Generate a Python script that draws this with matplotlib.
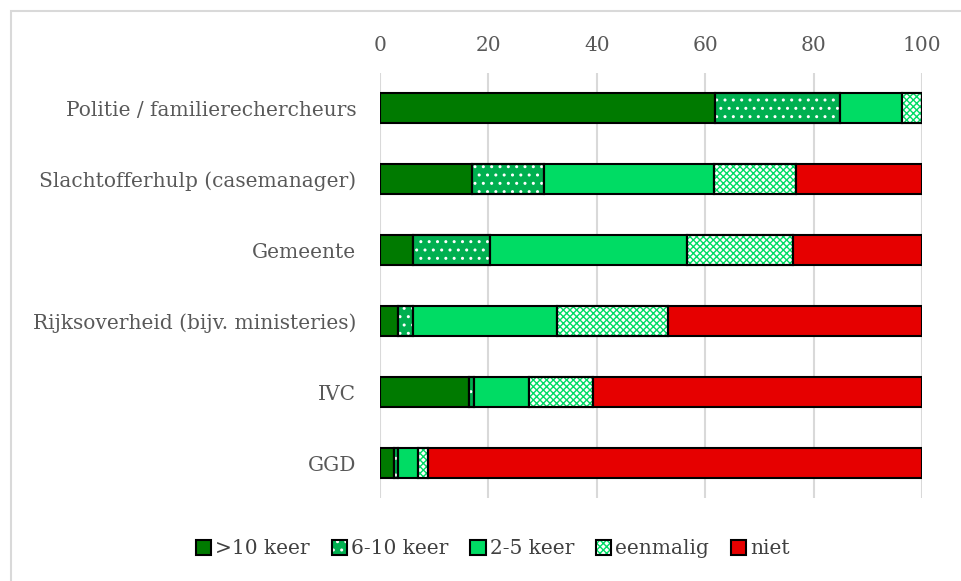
import numpy as np
import matplotlib
matplotlib.use("Agg")
import matplotlib.pyplot as plt
from matplotlib.patches import Rectangle

categories = ["Politie / familierechercheurs", "Slachtofferhulp (casemanager)", "Gemeente",
              "Rijksoverheid (bijv. ministeries)", "IVC", "GGD"]
series = [">10 keer", "6-10 keer", "2-5 keer", "eenmalig", "niet"]
meer_dan_10 = [61.8, 16.9, 6.1, 3.4, 16.4, 2.5]
keer_6_10 = [23.0, 13.3, 14.2, 2.7, 0.9, 0.9]
keer_2_5 = [11.6, 31.4, 36.3, 26.5, 10.2, 3.7]
eenmalig = [3.6, 15.2, 19.6, 20.5, 11.8, 1.8]
niet = [0.0, 23.2, 23.8, 46.9, 60.7, 91.1]
ticks = [0, 20, 40, 60, 80, 100]

colors = ["#007a00", "#00b050", "#00dc64", "#ffffff", "#e60000"]
hatches = [None, "..", None, "xxxxx", None]
hatch_colors = ["black", "white", "black", "#00dc64", "black"]

plt.rcParams["font.family"] = ["DejaVu Serif"]
plt.rcParams["hatch.linewidth"] = 1.0

fig = plt.figure(figsize=(9.61, 5.81), dpi=100)
ax = fig.add_axes([0.3954, 0.142, 0.5640, 0.733])

y = np.arange(len(categories))
left = np.zeros(len(categories))
data = [meer_dan_10, keer_6_10, keer_2_5, eenmalig, niet]
handles = []
for vals, name, c, h, hc in zip(data, series, colors, hatches, hatch_colors):
    vals = np.array(vals)
    bars = ax.barh(y, vals, left=left, height=0.42, color=c, edgecolor="black",
                   linewidth=1.5, zorder=3)
    if h:
        for b in bars:
            b.set_hatch(h)
            b._hatch_color = matplotlib.colors.to_rgba(hc)
        # black outline on top of the hatch
        ax.barh(y, vals, left=left, height=0.42, color="none", edgecolor="black",
                linewidth=1.5, zorder=4)
    left += vals
    handles.append(bars[0])

ax.set_xlim(0, 100)
ax.set_ylim(len(categories) - 0.5, -0.5)
ax.set_yticks(y)
ax.set_yticklabels(categories)
ax.set_xticks(ticks)
ax.xaxis.tick_top()
ax.tick_params(length=0, labelsize=14.5, colors="#595959", pad=13)
ax.tick_params(axis="y", pad=17)
ax.grid(axis="x", color="#d9d9d9", linewidth=1.5, zorder=0)
for s in ax.spines.values():
    s.set_visible(False)

ax.legend(handles, series, loc="center", bbox_to_anchor=(493 / 961, 1 - 549 / 581),
          bbox_transform=fig.transFigure, ncol=5, frameon=False, fontsize=14.5,
          handlelength=0.75, handleheight=0.75, handletextpad=0.2, columnspacing=1.1,
          labelcolor="#404040")

fig.patches.append(Rectangle((11 / 961, -0.01), 1.0, 1 - 11 / 581 + 0.01, transform=fig.transFigure,
                             fill=False, edgecolor="#d9d9d9", linewidth=1.5))

fig.savefig("out.png", dpi=100)
